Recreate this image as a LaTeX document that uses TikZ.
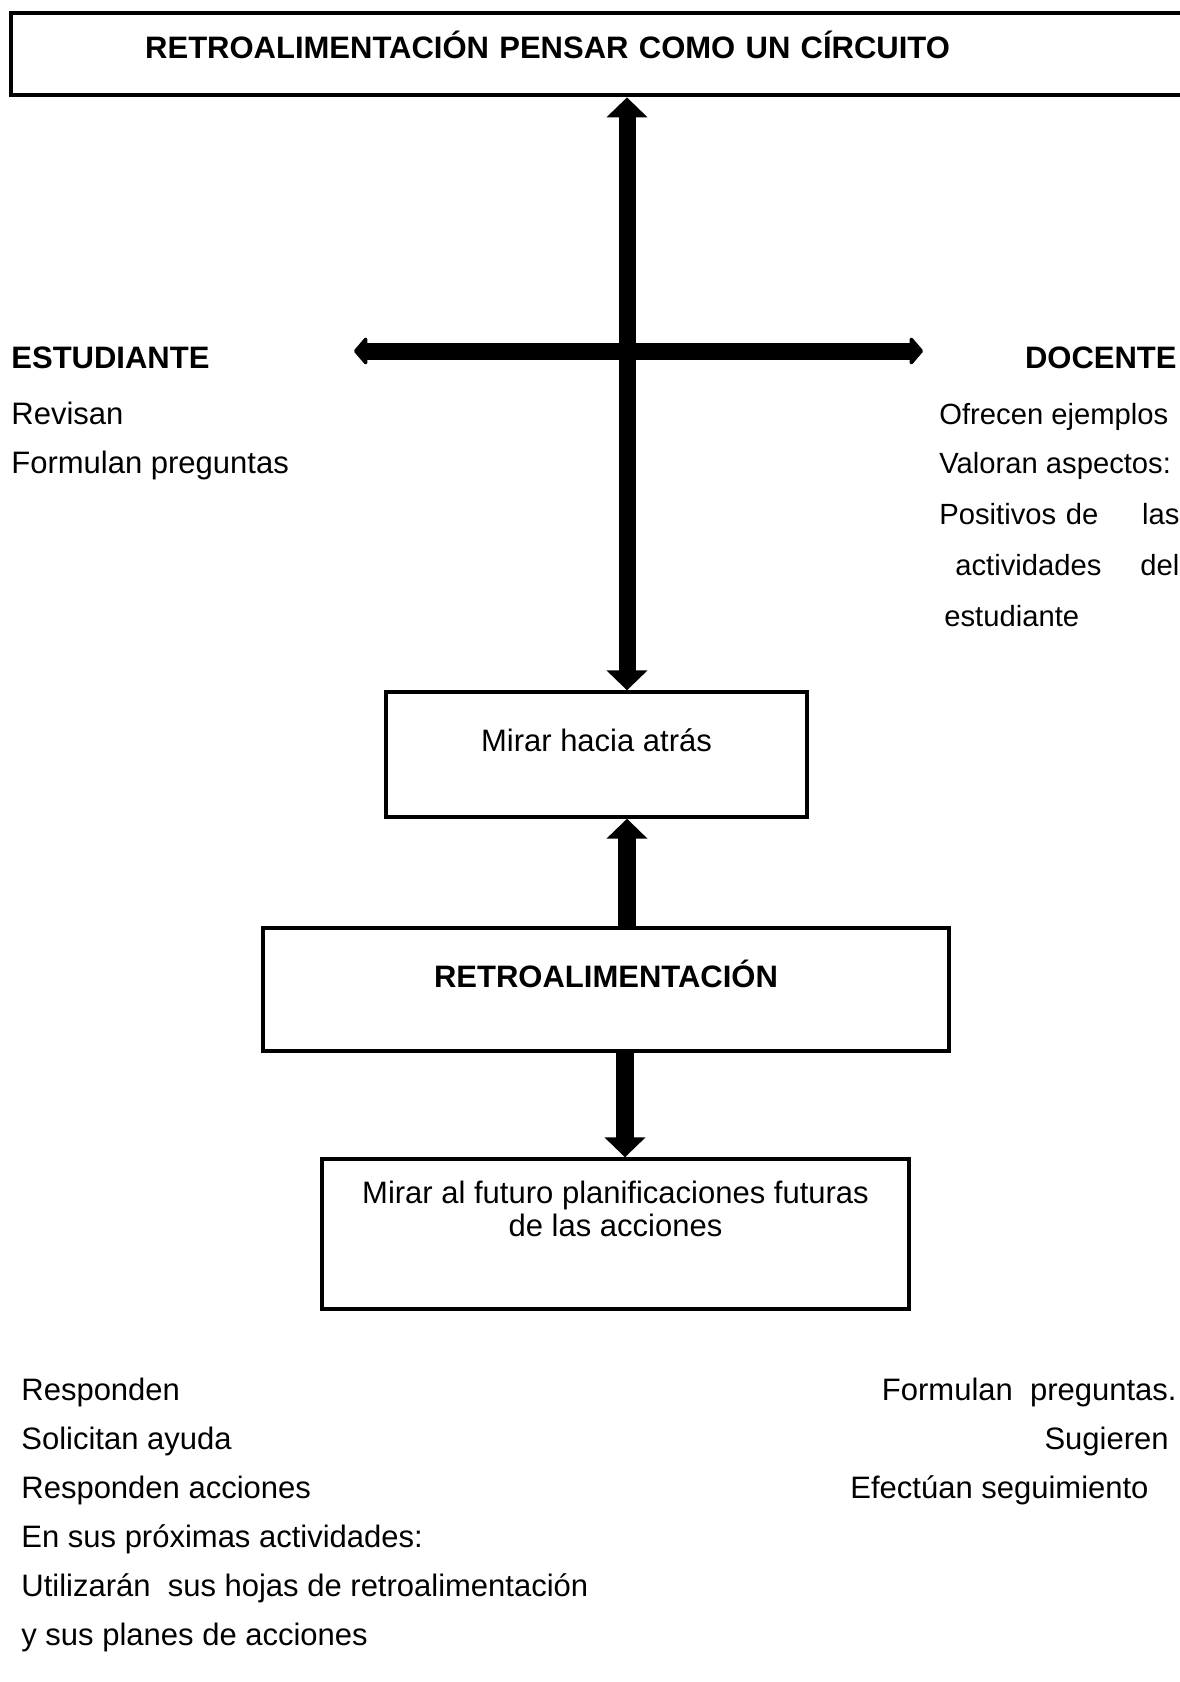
\documentclass[tikz,border=0pt]{standalone}
\usepackage{fontspec}
\setmainfont{Liberation Sans}
\usetikzlibrary{arrows.meta}
\usetikzlibrary{positioning}
\tikzset{>=latex}
\def\normaltext{\fontsize{15.5}{24.5}\selectfont}
\def\smalltext{\fontsize{14.6}{24.5}\selectfont}
\def\rowsep{49}

\begin{document}
\begin{tikzpicture}[
	x=0.5pt, y=-0.5pt,
	every node/.style={font=\normaltext, inner sep=0pt},
	box/.style={draw, line width=1.7pt, text height=11pt, align=center},
	uparrow/.style={line width=9pt, -{Triangle[length=10pt, width=20pt]}},
	bothways/.style={line width=8.5pt, {Triangle[length=10pt, width=20pt]}-{Triangle[length=10pt, width=20pt]}},
	sidearrow/.style={line width=8.5pt, {Triangle[round, length=7pt, width=16pt]}-{Triangle[round, length=7pt, width=16pt]}},
	]
	
	\useasboundingbox (0,0) rectangle (1179,1682);
	
	\node[box, line width=2.2pt, anchor=north west, minimum width=593pt, minimum height=41pt,
		text width=459pt, inner xsep=67pt, align=left, text depth=7pt,
		font=\normaltext\bfseries] (titulo) at (9,11) {RETROALIMENTACIÓN PENSAR COMO UN CÍRCUITO};
	
	\node[box, minimum width=210.5pt, minimum height=62.5pt, text depth=14.5pt] (atras) at (596.5,754.5) {Mirar hacia atrás};
	\node[box, minimum width=343pt, minimum height=61.5pt, text depth=13.5pt,
		font=\normaltext\bfseries] (retro) at (606,989.5) {RETROALIMENTACIÓN};
	\node[box, minimum width=293.5pt, minimum height=75pt, text depth=8.3pt,
		font=\fontsize{15.5}{16.5}\selectfont] (futuro) at (615.5,1234) {Mirar al futuro planificaciones futuras\\de las acciones};
	
	\coordinate (eje) at (627,0);
	\coordinate (eje2) at (625,0);
	\draw[bothways] (titulo.south -| eje) -- (atras.north -| eje);
	\draw[uparrow] (retro.north -| eje) -- (atras.south -| eje);
	\draw[uparrow] (retro.south -| eje2) -- (futuro.north -| eje2);
	
	\coordinate (izq) at (354,351);
	\coordinate (der) at (923,351);
	\draw[sidearrow] (izq) -- (der);
	
	\node[anchor=base west, font=\normaltext\bfseries] (estudiante) at (11,368) {ESTUDIANTE};
	\node[anchor=base east, font=\normaltext\bfseries] (docente) at (1177,368) {DOCENTE};
	
	\foreach \t [count=\i] in {Revisan, Formulan preguntas}
	\node[anchor=base west] (e\i) at (11,{424+\rowsep*(\i-1)}) {\t};
	
	\foreach \t [count=\i] in {Ofrecen ejemplos, Valoran aspectos:}
	\node[anchor=base west, font=\smalltext] (d\i) at (939,{424+\rowsep*(\i-1)}) {\t};
	\node[anchor=base west, text width=120pt, align=left, font=\smalltext] (d3) at (939,524) {\noindent Positivos de\hfill las};
	\node[anchor=base west, text width=112pt, align=left, font=\smalltext] (d4) at (955,575) {\noindent actividades\hfill del};
	\node[anchor=base west, font=\smalltext] (d5) at (944,626) {estudiante};
	
	% debajo
	\foreach \t [count=\i] in {Responden, Solicitan ayuda, Responden acciones, En sus próximas actividades:,
		Utilizarán\ \ sus hojas de retroalimentación, y sus planes de acciones}
	\node[anchor=base west] (b\i) at (21,{1400+\rowsep*(\i-1)}) {\t};
	
	\node[anchor=base east] (p1) at (1177,1400) {Formulan\ \ preguntas.};
	\node[anchor=base east] (p2) at (1169,1449) {Sugieren};
	\node[anchor=base west] (p3) at (850,1498) {Efectúan seguimiento};
	
\end{tikzpicture}
\end{document}
